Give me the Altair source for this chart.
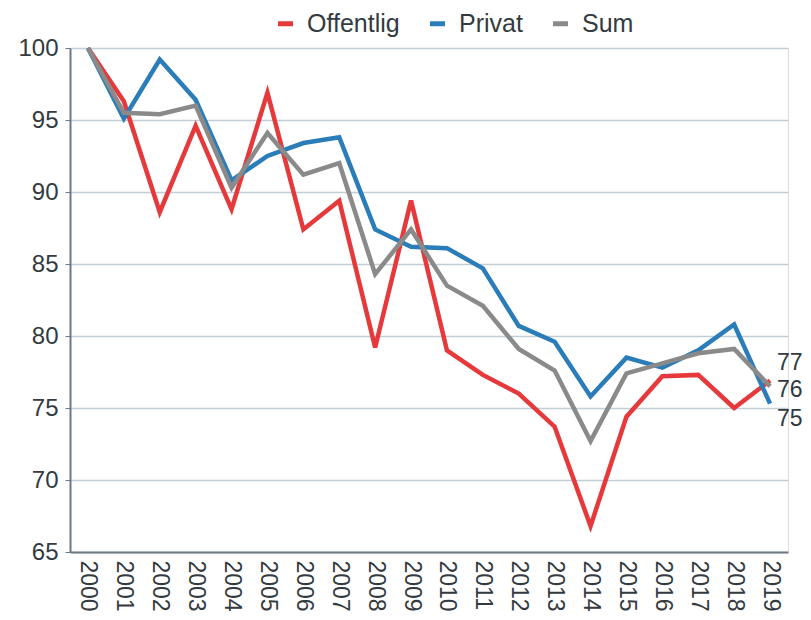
import altair as alt
import pandas as pd

years = [str(y) for y in range(2000, 2020)]
offentlig = [100, 96.3, 88.6, 94.6, 88.8, 96.9, 87.4, 89.4, 79.2, 89.4,
             79.0, 77.3, 76.0, 73.7, 66.8, 74.4, 77.2, 77.3, 75.0, 76.9]
privat = [100, 95.1, 99.2, 96.4, 90.8, 92.5, 93.4, 93.8, 87.4, 86.2,
          86.1, 84.7, 80.7, 79.6, 75.8, 78.5, 77.8, 79.0, 80.8, 75.3]
total = [100, 95.5, 95.4, 96.0, 90.3, 94.1, 91.2, 92.0, 84.3, 87.4,
         83.5, 82.1, 79.1, 77.6, 72.7, 77.4, 78.1, 78.8, 79.1, 76.5]
series = ["Offentlig", "Privat", "Sum"]
colors = ["#e5393b", "#2a7db8", "#8a8a8a"]
y_ticks = [65, 70, 75, 80, 85, 90, 95, 100]

rows = []
for name, vals in zip(series, [offentlig, privat, total]):
    for yr, v in zip(years, vals):
        rows.append({"year": yr, "value": v, "series": name})
df = pd.DataFrame(rows)

FONT = "Liberation Sans"
TXT = "#333a40"

x = alt.X("year:N", sort=years, title=None,
          scale=alt.Scale(type="point", padding=0.5),
          axis=alt.Axis(labelAngle=90, labelAlign="left", labelBaseline="middle",
                        labelFontSize=23, labelColor=TXT, labelFont=FONT,
                        ticks=False, domainColor="#6b7a86", domainWidth=2,
                        labelPadding=8, grid=False))
y = alt.Y("value:Q", title=None,
          scale=alt.Scale(domain=[65, 100], nice=False, zero=False),
          axis=alt.Axis(values=y_ticks, labelFontSize=24, labelColor=TXT,
                        labelFont=FONT, tickSize=5, tickColor="#6b7a86",
                        domainColor="#6b7a86", domainWidth=2,
                        gridColor="#c3cdd5", gridWidth=1.5, labelPadding=7))

lines = alt.Chart(df).mark_line(strokeWidth=4.5, strokeJoin="miter").encode(
    x=x, y=y,
    color=alt.Color("series:N", sort=series,
                    scale=alt.Scale(domain=series, range=colors),
                    legend=alt.Legend(title=None, orient="none", direction="horizontal",
                                      legendX=203, legendY=-37,
                                      symbolType="stroke", symbolStrokeWidth=5,
                                      symbolSize=225, labelFontSize=25,
                                      labelFont=FONT, labelColor=TXT,
                                      columnPadding=20, labelOffset=9)),
    order=alt.Order("series:N"),
)

last = df[df["year"] == years[-1]].copy()
last["label"] = last["value"].round().astype(int).astype(str)
offsets = {"Offentlig": -18, "Sum": 4, "Privat": 15}
label_layers = []
for name in series:
    sub = last[last["series"] == name]
    label_layers.append(
        alt.Chart(sub).mark_text(align="left", baseline="middle", dx=7,
                                 dy=offsets[name], fontSize=23, font=FONT,
                                 color=TXT).encode(
            x=alt.X("year:N", sort=years, scale=alt.Scale(type="point", padding=0.5)),
            y=alt.Y("value:Q", scale=alt.Scale(domain=[65, 100], nice=False, zero=False)),
            text="label:N")
    )

chart = alt.layer(lines, *label_layers).properties(
    width=718, height=504,
    autosize=alt.AutoSizeParams(type="none"),
    padding={"left": 62, "top": 40, "right": 15, "bottom": 60},
).configure_view(stroke=None).configure(background="white")

chart.save("out.html", embed_options={"renderer": "svg", "actions": False})
